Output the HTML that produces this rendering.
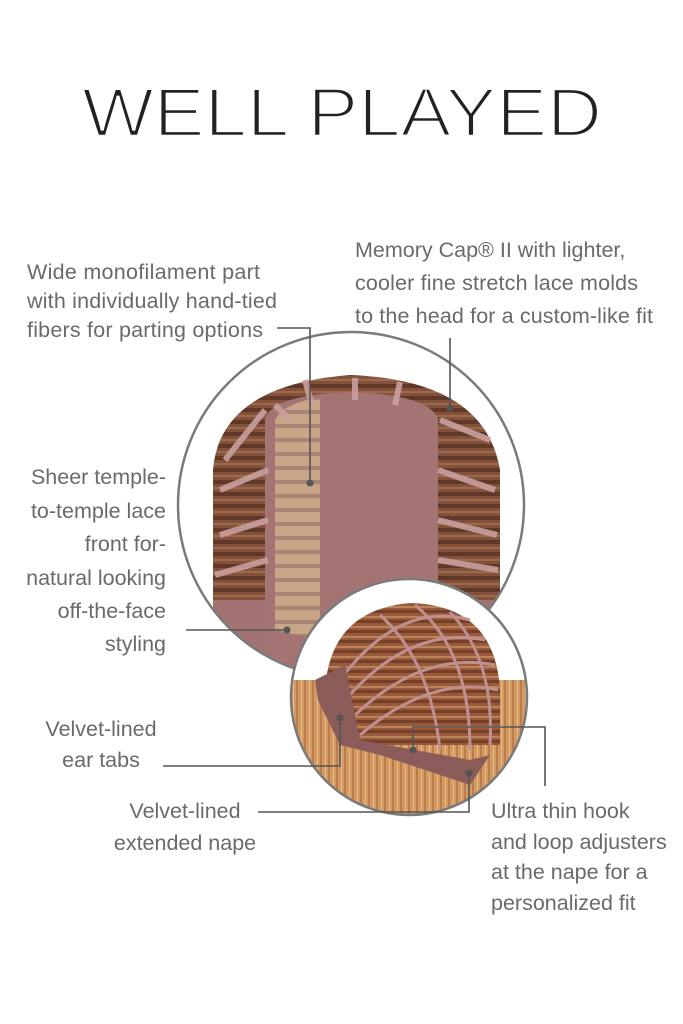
<!DOCTYPE html>
<html><head><meta charset="utf-8"><style>
html,body{margin:0;padding:0;background:#fff;}
svg{display:block}
text{font-family:"Liberation Sans",sans-serif;}
.t{font-size:21.5px;fill:#6a6a6a;}
</style></head><body>
<svg width="683" height="1024" viewBox="0 0 683 1024" xmlns="http://www.w3.org/2000/svg">
<defs>
<clipPath id="big"><circle cx="351" cy="505" r="173"/></clipPath>
<clipPath id="small"><circle cx="409" cy="697" r="117"/></clipPath>
<pattern id="wave" width="20" height="12" patternUnits="userSpaceOnUse">
<rect width="20" height="12" fill="#84523a"/><rect y="0" width="20" height="4" fill="#603828"/><rect y="7" width="20" height="2" fill="#9c6a4c"/></pattern>
<pattern id="blond" width="18" height="14" patternUnits="userSpaceOnUse">
<rect width="18" height="14" fill="#c9a587"/><rect y="4" width="18" height="4" fill="#a88474"/></pattern>
<pattern id="grid" width="16" height="10" patternUnits="userSpaceOnUse">
<rect width="16" height="10" fill="#9a5a3a"/><rect y="0" width="16" height="3" fill="#74402a"/><rect y="6" width="16" height="2" fill="#b8845c"/></pattern>
<pattern id="strand" width="8" height="20" patternUnits="userSpaceOnUse">
<rect width="8" height="20" fill="#d39a62"/><rect x="0" width="2" height="20" fill="#bd7c4e"/><rect x="5" width="1" height="20" fill="#e6bc8c"/></pattern>
</defs>

<text x="82" y="136" font-size="69" fill="#222" stroke="#fff" stroke-width="2.6" textLength="520" lengthAdjust="spacingAndGlyphs">WELL PLAYED</text>

<!-- big circle -->
<g clip-path="url(#big)">
<rect x="170" y="320" width="380" height="380" fill="#fff"/>
<rect x="190" y="640" width="130" height="60" fill="#d8b384"/>
<path d="M213,690 L213,470 Q220,385 350,375 Q485,380 500,470 L500,690 Z" fill="url(#wave)"/>
<path d="M265,690 L265,420 Q270,395 350,392 Q432,395 438,420 L438,690 Z" fill="#a47474"/>
<path d="M275,630 L275,420 Q285,402 320,398 L320,640 Z" fill="url(#blond)"/>
<g stroke="#c9a0a0" stroke-width="6" fill="none" opacity="0.9">
<path d="M265,410 L225,460"/><path d="M268,470 L220,490"/><path d="M268,520 L220,535"/><path d="M268,560 L215,575"/>
<path d="M440,420 L490,440"/><path d="M438,470 L495,490"/><path d="M438,520 L497,535"/><path d="M438,560 L498,570"/>
<path d="M305,380 L312,405"/><path d="M355,378 L355,400"/><path d="M400,382 L395,405"/><path d="M275,405 L290,420"/>
</g>
<path d="M213,600 L265,600 L265,690 L213,690 Z" fill="#a37373"/>
<path d="M438,600 L500,600 L500,690 L438,690 Z" fill="#a37373"/>
</g>
<circle cx="351" cy="505" r="173" fill="none" stroke="#7a7a7a" stroke-width="2.5"/>

<!-- small circle -->
<circle cx="409" cy="697" r="119" fill="#fff"/>
<g clip-path="url(#small)">
<rect x="280" y="570" width="260" height="260" fill="#fff"/>
<rect x="280" y="680" width="260" height="150" fill="url(#strand)"/>
<path d="M325,690 Q330,610 410,603 Q495,605 500,690 L500,745 L340,745 Z" fill="url(#grid)"/>
<g stroke="#c09090" stroke-width="3" fill="none">
<path d="M340,680 Q400,600 470,620"/><path d="M345,700 Q410,625 485,640"/><path d="M350,720 Q420,650 495,665"/>
<path d="M360,735 Q430,675 498,690"/><path d="M380,615 Q430,660 440,750"/><path d="M415,605 Q470,650 470,750"/><path d="M450,612 Q495,660 490,745"/>
</g>
<path d="M315,680 L345,665 L360,740 L470,760 L490,755 L470,785 L380,755 L340,745 L318,700 Z" fill="#8a5b58"/>
</g>
<circle cx="409" cy="697" r="118" fill="none" stroke="#7a7a7a" stroke-width="2.5"/>

<!-- connectors -->
<g stroke="#555" stroke-width="1.6" fill="none">
<path d="M277,328 H310 V483"/>
<path d="M450,338 V408"/>
<path d="M186,630 H287"/>
<path d="M163,766 H340 V718"/>
<path d="M258,812 H469 V773"/>
<path d="M413,750 V727 H545 V786"/>
</g>
<g fill="#555">
<circle cx="310" cy="483" r="3.5"/><circle cx="450" cy="408" r="3.5"/><circle cx="287" cy="630" r="3.5"/>
<circle cx="340" cy="718" r="3.5"/><circle cx="469" cy="773" r="3.5"/><circle cx="413" cy="750" r="3.5"/>
</g>

<!-- labels -->
<text class="t" x="27" y="279" textLength="233">Wide monofilament part</text>
<text class="t" x="27" y="308" textLength="250">with individually hand-tied</text>
<text class="t" x="27" y="337" textLength="236">fibers for parting options</text>
<text class="t" x="355" y="257">Memory Cap® II with lighter,</text>
<text class="t" x="355" y="290" textLength="283">cooler fine stretch lace molds</text>
<text class="t" x="355" y="323" textLength="298">to the head for a custom-like fit</text>
<g text-anchor="end">
<text class="t" x="166" y="484">Sheer temple-</text>
<text class="t" x="166" y="518">to-temple lace</text>
<text class="t" x="166" y="551">front for-</text>
<text class="t" x="166" y="585">natural looking</text>
<text class="t" x="166" y="618">off-the-face</text>
<text class="t" x="166" y="651">styling</text>
</g>
<g text-anchor="middle">
<text class="t" x="101" y="736">Velvet-lined</text>
<text class="t" x="101" y="767">ear tabs</text>
<text class="t" x="185" y="818">Velvet-lined</text>
<text class="t" x="185" y="850">extended nape</text>
</g>
<text class="t" x="491" y="818">Ultra thin hook</text>
<text class="t" x="491" y="849">and loop adjusters</text>
<text class="t" x="491" y="879">at the nape for a</text>
<text class="t" x="491" y="910">personalized fit</text>
</svg>
</body></html>
